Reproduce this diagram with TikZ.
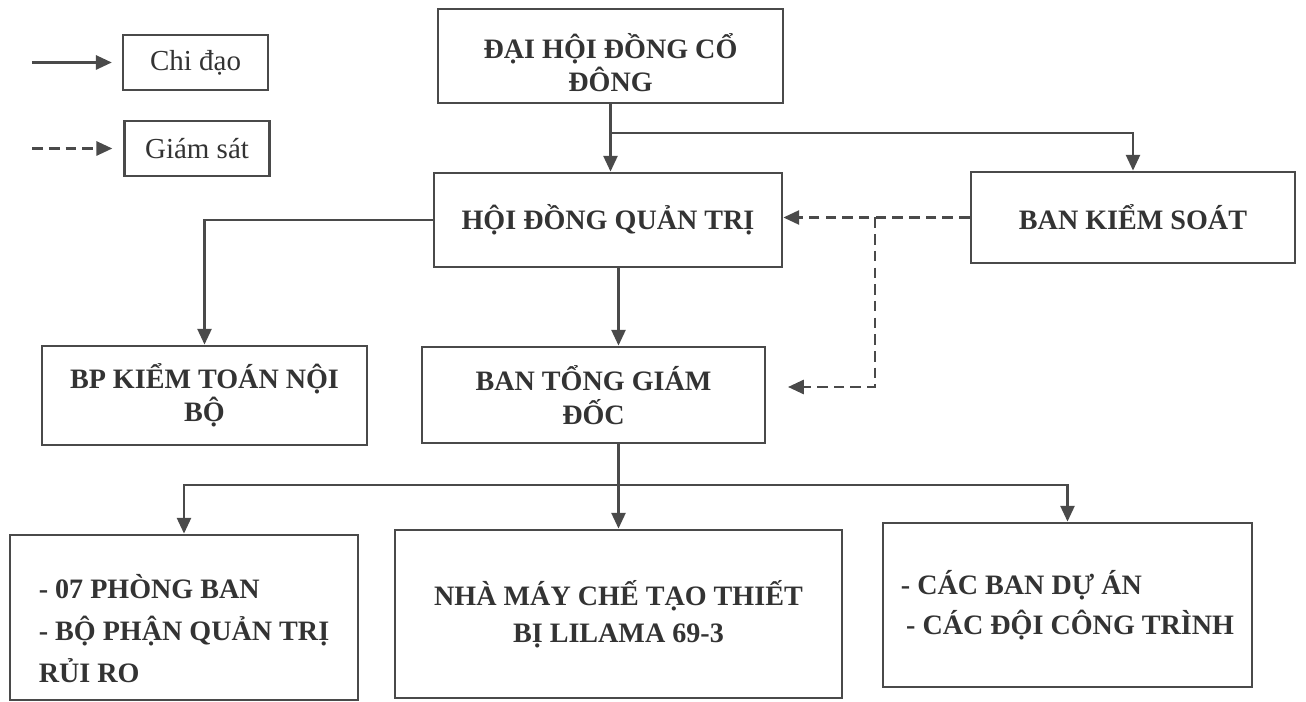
\documentclass[tikz,border=0pt]{standalone}
\usepackage{fontspec}
\setmainfont{Liberation Serif}
\usetikzlibrary{arrows.meta}
\definecolor{inkgray}{HTML}{4A4A4A}
\definecolor{textgray}{HTML}{333333}

\begin{document}
\begin{tikzpicture}[x=0.02cm, y=-0.02cm,
		box/.style={draw=inkgray, line width=1.6pt, rectangle, inner sep=0pt, align=center, text=textgray, font=\bfseries\fontsize{16}{19}\selectfont},
		legbox/.style={draw=inkgray, line width=1.4pt, rectangle, inner sep=0pt, minimum width=2.9cm, minimum height=1.1cm, text=textgray, font=\fontsize{16.5}{19}\selectfont},
		line/.style={draw=inkgray, line width=1.4pt},
		arr/.style={line, -{Triangle[length=9pt,width=8pt]}},
		suparr/.style={arr, dash pattern=on 6pt off 3.5pt}]
	    \useasboundingbox (0,0) rectangle (1306,702);
	    
	    \node [legbox] (chi) at (195.5,62.5) {Chi đạo};
	    \node [legbox] (giam) at (197,148.5) {Giám sát};
	    \coordinate (chistart) at ([xshift=-1.8cm]chi.west);
	    \coordinate (giamstart) at ([xshift=-1.82cm]giam.west);
	    \draw [arr, shorten >=0.2cm] (chistart) -- (chi.west);
	    \draw [suparr, shorten >=0.22cm] (giamstart) -- (giam.west);
	    
	    \node [box, minimum width=6.9cm, minimum height=1.88cm] (dhdcd) at (610.5,56) {\rule{0pt}{22pt}ĐẠI HỘI ĐỒNG CỔ\\ĐÔNG};
	    \node [box, minimum width=6.96cm, minimum height=1.88cm] (hdqt) at (608,220) {HỘI ĐỒNG QUẢN TRỊ};
	    \node [box, minimum width=6.48cm, minimum height=1.82cm] (bks) at (1133,217.5) {BAN KIỂM SOÁT};
	    \node [box, minimum width=6.5cm, minimum height=1.98cm] (bpktnb) at (204.5,395.5) {BP KIỂM TOÁN NỘI\\BỘ};
	    \node [box, minimum width=6.86cm, minimum height=1.92cm] (btgd) at (593.5,395) {BAN TỔNG GIÁM\\ĐỐC};
	    \node [box, align=left, minimum width=6.96cm, minimum height=3.3cm] (pb) at (184,617.5) {\rule{0pt}{26pt}- 07 PHÒNG BAN\\[5pt]- BỘ PHẬN QUẢN TRỊ\\[5pt]RỦI RO};
	    \node [box, minimum width=8.94cm, minimum height=3.36cm] (nm) at (618.5,614) {NHÀ MÁY CHẾ TẠO THIẾT\\[2pt]BỊ LILAMA 69-3};
	    \node [box, align=left, minimum width=7.38cm, minimum height=3.28cm] (ct) at (1067.5,605) {- CÁC BAN DỰ ÁN\\[4pt]\hspace*{3pt}- CÁC ĐỘI CÔNG TRÌNH};
	    
	    \coordinate (topbus) at (dhdcd.south |- 0,133);
	    \coordinate (lowbus) at (nm.north |- 0,485);
	    \coordinate (split) at (875,0 |- bks.west);
	    \coordinate (btgdtip) at (788,387);
	    
	    \draw [arr] (dhdcd.south) -- (dhdcd.south |- hdqt.north);
	    \draw [arr] (topbus) -| (bks.north);
	    \draw [arr] (hdqt.west) -| (bpktnb.north);
	    \draw [arr] (nm.north |- hdqt.south) -- (nm.north |- btgd.north);
	    \draw [line] (nm.north |- btgd.south) -- (lowbus);
	    \draw [arr] (lowbus) -- (nm.north);
	    \draw [arr] (lowbus) -| (pb.north);
	    \draw [arr] (lowbus) -| (ct.north);
	    
	    \draw [suparr] (bks.west) -- (bks.west -| hdqt.east);
	    \draw [suparr] (split) |- (btgdtip);
	\end{tikzpicture}
\end{document}
